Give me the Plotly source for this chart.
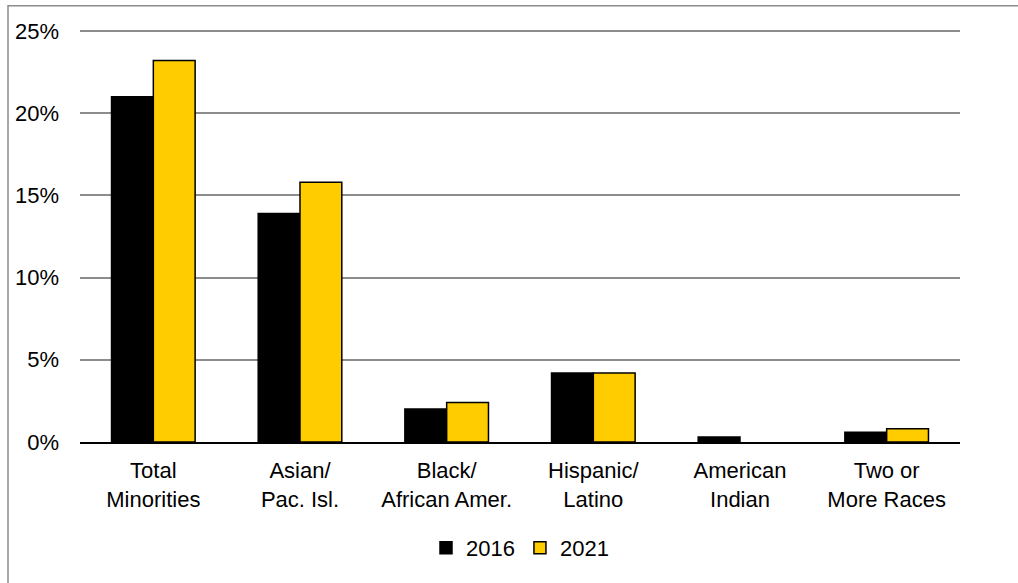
import plotly.graph_objects as go

categories = ["Total<br>Minorities", "Asian/<br>Pac. Isl.", "Black/<br>African Amer.",
              "Hispanic/<br>Latino", "American<br>Indian", "Two or<br>More Races"]
values_2016 = [21.0, 13.9, 2.0, 4.2, 0.3, 0.6]
values_2021 = [23.2, 15.8, 2.4, 4.2, 0.0, 0.8]
tick_vals = [0, 5, 10, 15, 20, 25]
tick_text = ["0%", "5%", "10%", "15%", "20%", "25%"]

W, H = 1018, 583
Y0PX, Y25PX = 442, 31          # pixel rows of 0% and 25%
unit = (Y0PX - Y25PX) / 25.0
YMAX = 25.6
L, R = 80, 58
T = Y0PX - YMAX * unit
B = H - Y0PX
pw, ph = W - L - R, Y0PX - T

fig = go.Figure()
fig.add_trace(go.Bar(name="2016", x=categories, y=values_2016,
                     marker=dict(color="#000000",
                                 line=dict(color="#000000",
                                           width=[1.5 if v > 0 else 0 for v in values_2016]))))
fig.add_trace(go.Bar(name="2021", x=categories, y=values_2021,
                     marker=dict(color="#FFCC00",
                                 line=dict(color="#000000",
                                           width=[1.5 if v > 0 else 0 for v in values_2021]))))

fig.update_layout(
    width=W, height=H,
    margin=dict(l=L, r=R, t=T, b=B),
    paper_bgcolor="white", plot_bgcolor="white",
    barmode="group", bargap=0.43, bargroupgap=0,
    font=dict(family="Liberation Sans, Arial, sans-serif", size=22, color="#000000"),
    legend=dict(orientation="h", x=0.5, xanchor="center",
                y=-(548 - Y0PX) / ph, yanchor="middle",
                font=dict(size=22), itemwidth=30, tracegroupgap=0,
                traceorder="normal"),
    showlegend=True,
)
fig.update_yaxes(range=[0, YMAX], tickvals=tick_vals, ticktext=tick_text,
                 showgrid=True, gridcolor="#8c8c8c", gridwidth=1.5,
                 zeroline=False, showline=False, ticks="", ticklabelstandoff=20,
                 fixedrange=True)
fig.update_xaxes(showline=True, linecolor="#000000", linewidth=1.5,
                 ticks="", ticklabelstandoff=8, fixedrange=True)

# outer frame (chart border)
fig.add_shape(type="rect", xref="paper", yref="paper",
              x0=(8 - L) / pw, x1=(W + 20 - L) / pw,
              y0=-(H + 20 - Y0PX) / ph, y1=(Y0PX - 6) / ph,
              line=dict(color="#8c8c8c", width=1.5), fillcolor="rgba(0,0,0,0)",
              layer="below")

fig.write_html("out.html")
